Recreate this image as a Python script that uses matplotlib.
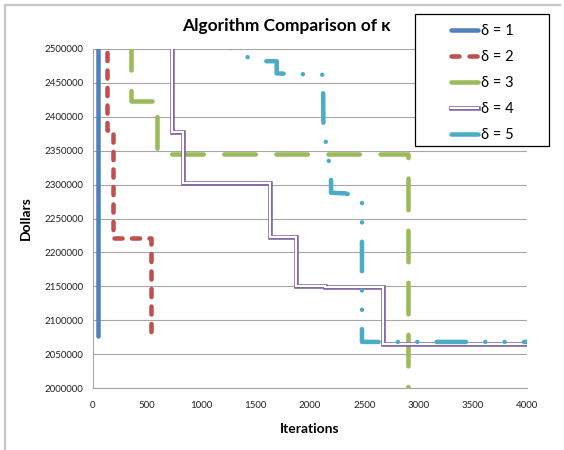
import matplotlib
matplotlib.use("Agg")
import matplotlib.pyplot as plt
from matplotlib.lines import Line2D
from matplotlib.patches import Rectangle
from matplotlib.ticker import FuncFormatter

plt.rcParams['font.family'] = ['Lato', 'DejaVu Sans']
plt.rcParams['lines.scale_dashes'] = False

# step traces for each delta (iterations, dollars)
d1_x = [45, 45]
d1_y = [2520000, 2077000]
d2_x = [132, 132, 187, 187, 531, 531]
d2_y = [2520000, 2380000, 2380000, 2221000, 2221000, 2081000]
d3_x = [347, 347, 590, 590, 2900, 2900]
d3_y = [2520000, 2424000, 2424000, 2345000, 2345000, 2000000]
d4_x = [731, 731, 830, 830, 1627, 1627, 1871, 1871, 2138, 2138, 2676, 2676, 4000]
d4_y = [2520000, 2378000, 2378000, 2303000, 2303000, 2222000, 2222000,
        2151000, 2151000, 2149000, 2149000, 2065000, 2065000]
d5_x = [1189, 1447, 1585, 1693, 1693, 2120, 2124, 2194, 2194, 2329, 2479, 2479, 4000]
d5_y = [2509000, 2486000, 2482000, 2482000, 2464000, 2462000, 2385000,
        2313000, 2288000, 2287000, 2279000, 2068000, 2068000]

labels = ['δ = 1', 'δ = 2', 'δ = 3', 'δ = 4', 'δ = 5']
colors = ['#4F81BD', '#C0504D', '#9BBB59', '#8064A2', '#4BACC6']

lw = 3.25
style = dict(lw=lw, solid_capstyle='round', dash_capstyle='round',
             solid_joinstyle='round', dash_joinstyle='round')

fig = plt.figure(figsize=(5.64, 4.5), dpi=100)
ax = fig.add_axes([93/564, 1-388/450, 434/564, 339/450])

ax.plot(d1_x, d1_y, color=colors[0], **style)
ax.plot(d2_x, d2_y, color=colors[1], ls=(0, (5.8, 6.8)), **style)
ax.plot(d3_x, d3_y, color=colors[2], ls=(35, (22.7, 14.8)), **style)
ax.plot(d4_x, d4_y, color=colors[3], lw=3.3, solid_joinstyle='miter')
ax.plot(d4_x, d4_y, color='white', lw=1.5, solid_joinstyle='miter')
ax.plot(d5_x, d5_y, color=colors[4],
        ls=(27.9, (21.2, 13.9, 0.01, 13.9, 0.01, 13.9)), **style)

ax.set_xlim(0, 4000)
ax.set_ylim(2000000, 2500000)
ax.set_xticks(range(0, 4001, 500))
ax.set_yticks(range(2000000, 2500001, 50000))
ax.yaxis.set_major_formatter(FuncFormatter(lambda v, p: f'{int(v)}'))
ax.grid(axis='y', color='#a6a6a6', lw=0.8)
ax.set_axisbelow(True)
for s in ['top', 'right']:
    ax.spines[s].set_visible(False)
for s in ['left', 'bottom']:
    ax.spines[s].set_color('#a6a6a6')
    ax.spines[s].set_linewidth(0.8)
ax.tick_params(length=0, labelsize=7, colors='#222222')
ax.tick_params(axis='y', pad=7)
ax.tick_params(axis='x', pad=9)
ax.set_xlabel('Iterations', fontsize=10, fontweight='bold', labelpad=10)
ax.set_ylabel('Dollars', fontsize=10, fontweight='bold', labelpad=9)

fig.text(286/564, 1-26/450, 'Algorithm Comparison of κ', ha='center', va='center',
         fontsize=12.5, fontweight='bold')

# outer chart border (top and left edges)
fig.add_artist(Line2D([5/564, 5/564], [0, 1-5/450], color='#c8c8c8', lw=1.6))
fig.add_artist(Line2D([5/564, 560/564], [1-5/450, 1-5/450], color='#c8c8c8', lw=1.6))

# legend box
box = Rectangle((415/564, 1-146/450), 134/564, 132/450, transform=fig.transFigure,
                facecolor='white', edgecolor='black', lw=0.9, zorder=4)
fig.add_artist(box)

hstyle = dict(lw=lw, solid_capstyle='round', dash_capstyle='round')
handles = [
    Line2D([], [], color=colors[0], **hstyle),
    Line2D([], [], color=colors[1], dashes=(5.8, 7.2), **hstyle),
    Line2D([], [], color=colors[2], **hstyle),
    (Line2D([], [], color=colors[3], lw=3.3), Line2D([], [], color='white', lw=1.5)),
    Line2D([], [], color=colors[4], **hstyle),
]
leg = fig.legend(handles, labels, loc='center', frameon=False,
                 bbox_to_anchor=(482/564, 1-83/450), fontsize=10.5,
                 handlelength=1.9, handletextpad=0.15, labelspacing=0.82)
leg.set_zorder(5)

fig.savefig('out.png', dpi=100)
